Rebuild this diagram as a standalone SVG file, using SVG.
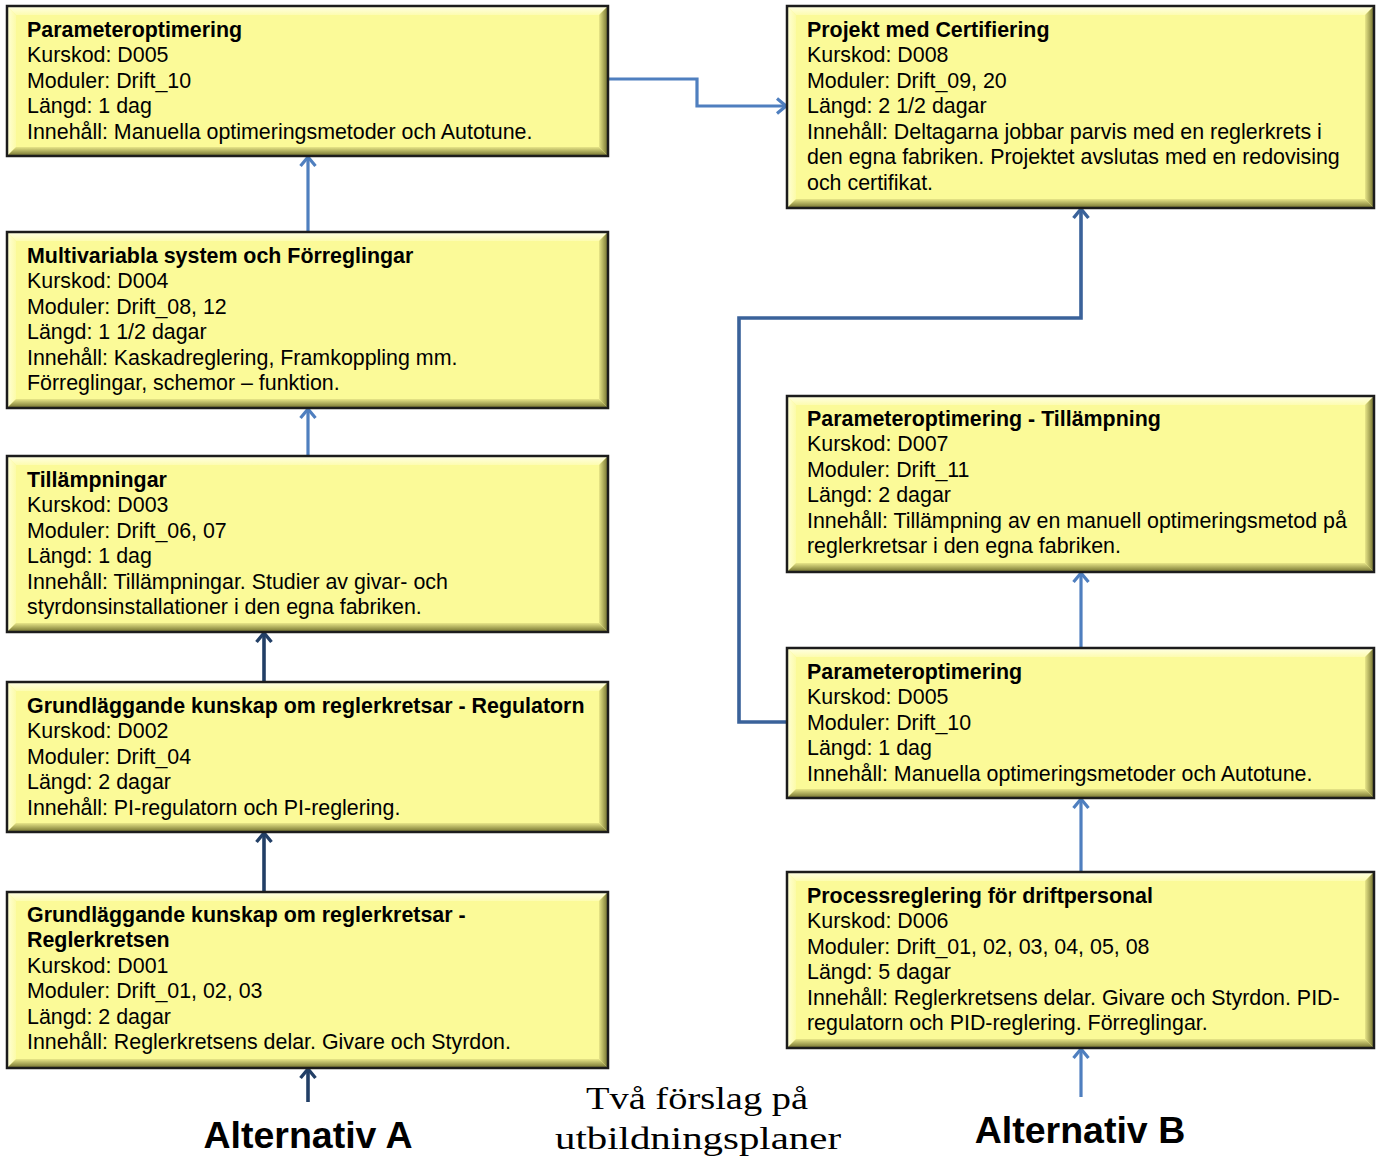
<svg xmlns="http://www.w3.org/2000/svg" width="1376" height="1162" viewBox="0 0 1376 1162">
<style>
.bx{fill:#fbfa98}
.bt{fill:url(#gTop)}
.bl{fill:url(#gLeft)}
.br{fill:url(#gRight)}
.bb{fill:url(#gBot)}
.bd{fill:none;stroke:#1c1c1c;stroke-width:2.5}
text{font-family:"Liberation Sans",Arial,sans-serif;font-size:21.4px;fill:#000}
.t{font-weight:bold}
.alt{font-weight:bold;font-size:37.5px;text-anchor:middle}
.hw{font-family:"Comic Sans MS","Segoe Print",cursive;font-size:32px;text-anchor:middle}
.cl{fill:none;stroke:#4f7fbf;stroke-width:3.2;marker-end:url(#ahL)}
.cd{fill:none;stroke:#223f66;stroke-width:3.6;marker-end:url(#ahD)}
.cm{fill:none;stroke:#3a629a;stroke-width:3.6;marker-end:url(#ahM)}
</style>
<defs>
<linearGradient id="gTop" x1="0" y1="0" x2="0" y2="1"><stop offset="0" stop-color="#ffffe6"/><stop offset="1" stop-color="#fdfcb0"/></linearGradient>
<linearGradient id="gLeft" x1="0" y1="0" x2="1" y2="0"><stop offset="0" stop-color="#ffffd8"/><stop offset="1" stop-color="#fcfba8"/></linearGradient>
<linearGradient id="gRight" x1="0" y1="0" x2="1" y2="0"><stop offset="0" stop-color="#e8e688"/><stop offset="1" stop-color="#6e6d2c"/></linearGradient>
<linearGradient id="gBot" x1="0" y1="0" x2="0" y2="1"><stop offset="0" stop-color="#e8e688"/><stop offset="1" stop-color="#6e6d2c"/></linearGradient>
<marker id="ahL" viewBox="0 0 12 18" refX="10.5" refY="9" markerWidth="12" markerHeight="18" markerUnits="userSpaceOnUse" orient="auto"><path d="M1.5,1.5 L10.5,9 L1.5,16.5" fill="none" stroke="#4f7fbf" stroke-width="3.2"/></marker>
<marker id="ahD" viewBox="0 0 12 18" refX="10.5" refY="9" markerWidth="12" markerHeight="18" markerUnits="userSpaceOnUse" orient="auto"><path d="M1.5,1.5 L10.5,9 L1.5,16.5" fill="none" stroke="#223f66" stroke-width="3.4"/></marker>
<marker id="ahM" viewBox="0 0 12 18" refX="10.5" refY="9" markerWidth="12" markerHeight="18" markerUnits="userSpaceOnUse" orient="auto"><path d="M1.5,1.5 L10.5,9 L1.5,16.5" fill="none" stroke="#3a629a" stroke-width="3.4"/></marker>
</defs>

<g id="connectors">
<path class="cl" d="M308,232 V157"/>
<path class="cl" d="M308,456 V409"/>
<path class="cd" d="M264,682 V633"/>
<path class="cd" d="M264,892 V833"/>
<path class="cd" d="M308,1102 V1069"/>
<path class="cl" d="M608,79 H697 V106 H786"/>
<path class="cm" d="M787,722 H739 V318 H1081 V209"/>
<path class="cl" d="M1081,648 V573"/>
<path class="cl" d="M1081,872 V799"/>
<path class="cl" d="M1081,1097 V1049"/>
</g>

<g id="a1" transform="translate(7,6)">
<rect class="bx" width="601" height="150"/>
<polygon class="bt" points="0,0 601,0 592,9 9,9"/>
<polygon class="bl" points="0,0 9,9 9,141 0,150"/>
<polygon class="br" points="601,0 601,150 592,141 592,9"/>
<polygon class="bb" points="0,150 601,150 592,141 9,141"/>
<rect class="bd" width="601" height="150"/>
<text class="t" x="20" y="31">Parameteroptimering</text>
<text x="20" y="56">Kurskod: D005</text>
<text x="20" y="82">Moduler: Drift_10</text>
<text x="20" y="107">Längd: 1 dag</text>
<text x="20" y="133">Innehåll: Manuella optimeringsmetoder och Autotune.</text>
</g>

<g id="a2" transform="translate(7,232)">
<rect class="bx" width="601" height="176"/>
<polygon class="bt" points="0,0 601,0 592,9 9,9"/>
<polygon class="bl" points="0,0 9,9 9,167 0,176"/>
<polygon class="br" points="601,0 601,176 592,167 592,9"/>
<polygon class="bb" points="0,176 601,176 592,167 9,167"/>
<rect class="bd" width="601" height="176"/>
<text class="t" x="20" y="31">Multivariabla system och Förreglingar</text>
<text x="20" y="56">Kurskod: D004</text>
<text x="20" y="82">Moduler: Drift_08, 12</text>
<text x="20" y="107">Längd: 1 1/2 dagar</text>
<text x="20" y="133">Innehåll: Kaskadreglering, Framkoppling mm.</text>
<text x="20" y="158">Förreglingar, schemor – funktion.</text>
</g>

<g id="a3" transform="translate(7,456)">
<rect class="bx" width="601" height="176"/>
<polygon class="bt" points="0,0 601,0 592,9 9,9"/>
<polygon class="bl" points="0,0 9,9 9,167 0,176"/>
<polygon class="br" points="601,0 601,176 592,167 592,9"/>
<polygon class="bb" points="0,176 601,176 592,167 9,167"/>
<rect class="bd" width="601" height="176"/>
<text class="t" x="20" y="31">Tillämpningar</text>
<text x="20" y="56">Kurskod: D003</text>
<text x="20" y="82">Moduler: Drift_06, 07</text>
<text x="20" y="107">Längd: 1 dag</text>
<text x="20" y="133">Innehåll: Tillämpningar. Studier av givar- och</text>
<text x="20" y="158">styrdonsinstallationer i den egna fabriken.</text>
</g>

<g id="a4" transform="translate(7,682)">
<rect class="bx" width="601" height="150"/>
<polygon class="bt" points="0,0 601,0 592,9 9,9"/>
<polygon class="bl" points="0,0 9,9 9,141 0,150"/>
<polygon class="br" points="601,0 601,150 592,141 592,9"/>
<polygon class="bb" points="0,150 601,150 592,141 9,141"/>
<rect class="bd" width="601" height="150"/>
<text class="t" x="20" y="31">Grundläggande kunskap om reglerkretsar - Regulatorn</text>
<text x="20" y="56">Kurskod: D002</text>
<text x="20" y="82">Moduler: Drift_04</text>
<text x="20" y="107">Längd: 2 dagar</text>
<text x="20" y="133">Innehåll: PI-regulatorn och PI-reglering.</text>
</g>

<g id="a5" transform="translate(7,892)">
<rect class="bx" width="601" height="176"/>
<polygon class="bt" points="0,0 601,0 592,9 9,9"/>
<polygon class="bl" points="0,0 9,9 9,167 0,176"/>
<polygon class="br" points="601,0 601,176 592,167 592,9"/>
<polygon class="bb" points="0,176 601,176 592,167 9,167"/>
<rect class="bd" width="601" height="176"/>
<text class="t" x="20" y="30">Grundläggande kunskap om reglerkretsar -</text>
<text class="t" x="20" y="55">Reglerkretsen</text>
<text x="20" y="81">Kurskod: D001</text>
<text x="20" y="106">Moduler: Drift_01, 02, 03</text>
<text x="20" y="132">Längd: 2 dagar</text>
<text x="20" y="157">Innehåll: Reglerkretsens delar. Givare och Styrdon.</text>
</g>

<g id="b1" transform="translate(787,6)">
<rect class="bx" width="587" height="202"/>
<polygon class="bt" points="0,0 587,0 578,9 9,9"/>
<polygon class="bl" points="0,0 9,9 9,193 0,202"/>
<polygon class="br" points="587,0 587,202 578,193 578,9"/>
<polygon class="bb" points="0,202 587,202 578,193 9,193"/>
<rect class="bd" width="587" height="202"/>
<text class="t" x="20" y="31">Projekt med Certifiering</text>
<text x="20" y="56">Kurskod: D008</text>
<text x="20" y="82">Moduler: Drift_09, 20</text>
<text x="20" y="107">Längd: 2 1/2 dagar</text>
<text x="20" y="133">Innehåll: Deltagarna jobbar parvis med en reglerkrets i</text>
<text x="20" y="158">den egna fabriken. Projektet avslutas med en redovising</text>
<text x="20" y="184">och certifikat.</text>
</g>

<g id="b2" transform="translate(787,396)">
<rect class="bx" width="587" height="176"/>
<polygon class="bt" points="0,0 587,0 578,9 9,9"/>
<polygon class="bl" points="0,0 9,9 9,167 0,176"/>
<polygon class="br" points="587,0 587,176 578,167 578,9"/>
<polygon class="bb" points="0,176 587,176 578,167 9,167"/>
<rect class="bd" width="587" height="176"/>
<text class="t" x="20" y="30">Parameteroptimering - Tillämpning</text>
<text x="20" y="55">Kurskod: D007</text>
<text x="20" y="81">Moduler: Drift_11</text>
<text x="20" y="106">Längd: 2 dagar</text>
<text x="20" y="132">Innehåll: Tillämpning av en manuell optimeringsmetod på</text>
<text x="20" y="157">reglerkretsar i den egna fabriken.</text>
</g>

<g id="b3" transform="translate(787,648)">
<rect class="bx" width="587" height="150"/>
<polygon class="bt" points="0,0 587,0 578,9 9,9"/>
<polygon class="bl" points="0,0 9,9 9,141 0,150"/>
<polygon class="br" points="587,0 587,150 578,141 578,9"/>
<polygon class="bb" points="0,150 587,150 578,141 9,141"/>
<rect class="bd" width="587" height="150"/>
<text class="t" x="20" y="31">Parameteroptimering</text>
<text x="20" y="56">Kurskod: D005</text>
<text x="20" y="82">Moduler: Drift_10</text>
<text x="20" y="107">Längd: 1 dag</text>
<text x="20" y="133">Innehåll: Manuella optimeringsmetoder och Autotune.</text>
</g>

<g id="b4" transform="translate(787,872)">
<rect class="bx" width="587" height="176"/>
<polygon class="bt" points="0,0 587,0 578,9 9,9"/>
<polygon class="bl" points="0,0 9,9 9,167 0,176"/>
<polygon class="br" points="587,0 587,176 578,167 578,9"/>
<polygon class="bb" points="0,176 587,176 578,167 9,167"/>
<rect class="bd" width="587" height="176"/>
<text class="t" x="20" y="31">Processreglering för driftpersonal</text>
<text x="20" y="56">Kurskod: D006</text>
<text x="20" y="82">Moduler: Drift_01, 02, 03, 04, 05, 08</text>
<text x="20" y="107">Längd: 5 dagar</text>
<text x="20" y="133">Innehåll: Reglerkretsens delar. Givare och Styrdon. PID-</text>
<text x="20" y="158">regulatorn och PID-reglering. Förreglingar.</text>
</g>

<g id="labels">
<text class="alt" x="308" y="1148">Alternativ A</text>
<text class="alt" x="1080" y="1143">Alternativ B</text>
<text class="hw" x="697" y="1109" textLength="222" lengthAdjust="spacingAndGlyphs">Två förslag på</text>
<text class="hw" x="698" y="1149" textLength="286" lengthAdjust="spacingAndGlyphs">utbildningsplaner</text>
</g>
</svg>
